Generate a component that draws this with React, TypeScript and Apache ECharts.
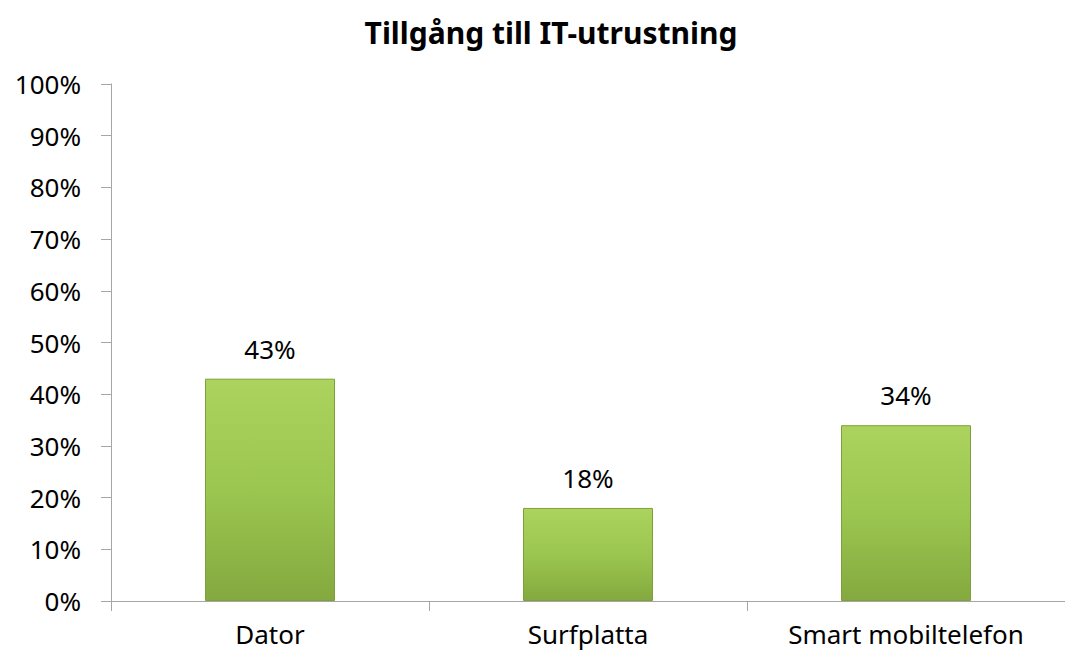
import React, { useEffect, useRef } from "react";
import * as echarts from "echarts";

const title = "Tillgång till IT-utrustning";
const categories = ["Dator", "Surfplatta", "Smart mobiltelefon"];
const values = [43, 18, 34];
const yTicks = [0, 10, 20, 30, 40, 50, 60, 70, 80, 90, 100];

export default function App() {
  const ref = useRef<HTMLDivElement>(null);
  useEffect(() => {
    if (!ref.current) return;
    const chart = echarts.init(ref.current, null, { renderer: "svg" });
    const font = "'Noto Sans', sans-serif";
    chart.setOption({
      animation: false,
      backgroundColor: "#ffffff",
      title: {
        text: title,
        left: 546,
        textAlign: "center",
        top: 12,
        textStyle: { fontFamily: font, fontSize: 30, fontWeight: "bold", color: "#000" },
      },
      grid: { left: 111, right: -8, top: 84, bottom: 57 },
      xAxis: {
        type: "category",
        data: categories,
        boundaryGap: true,
        axisLine: { lineStyle: { color: "#a6a6a6", width: 1 } },
        axisTick: { show: true, length: 10, lineStyle: { color: "#a6a6a6" } },
        axisLabel: { fontFamily: font, fontSize: 26, color: "#000", margin: 20 },
      },
      yAxis: {
        type: "value",
        min: 0,
        max: yTicks[yTicks.length - 1],
        interval: yTicks[1] - yTicks[0],
        splitLine: { show: false },
        axisLine: { show: true, lineStyle: { color: "#a6a6a6", width: 1 } },
        axisTick: { show: true, length: 10, lineStyle: { color: "#a6a6a6" } },
        axisLabel: {
          fontFamily: font,
          fontSize: 26,
          color: "#000",
          margin: 30,
          formatter: (v: number) => v + "%",
        },
      },
      series: [
        {
          type: "bar",
          data: values,
          barWidth: 130,
          itemStyle: {
            color: new echarts.graphic.LinearGradient(0, 0, 0, 1, [
              { offset: 0, color: "#abd35d" },
              { offset: 0.5, color: "#9bc650" },
              { offset: 1, color: "#84a93f" },
            ]),
            borderColor: "#7f9f3c",
            borderWidth: 1,
          },
          label: {
            show: true,
            position: "top",
            distance: 17,
            fontFamily: font,
            fontSize: 26,
            color: "#000",
            formatter: (p: any) => p.value + "%",
          },
        },
      ],
    });
    return () => chart.dispose();
  }, []);
  return (
    <div
      ref={ref}
      style={{ position: "fixed", left: 0, top: 0, width: 1065, height: 658 }}
    />
  );
}
